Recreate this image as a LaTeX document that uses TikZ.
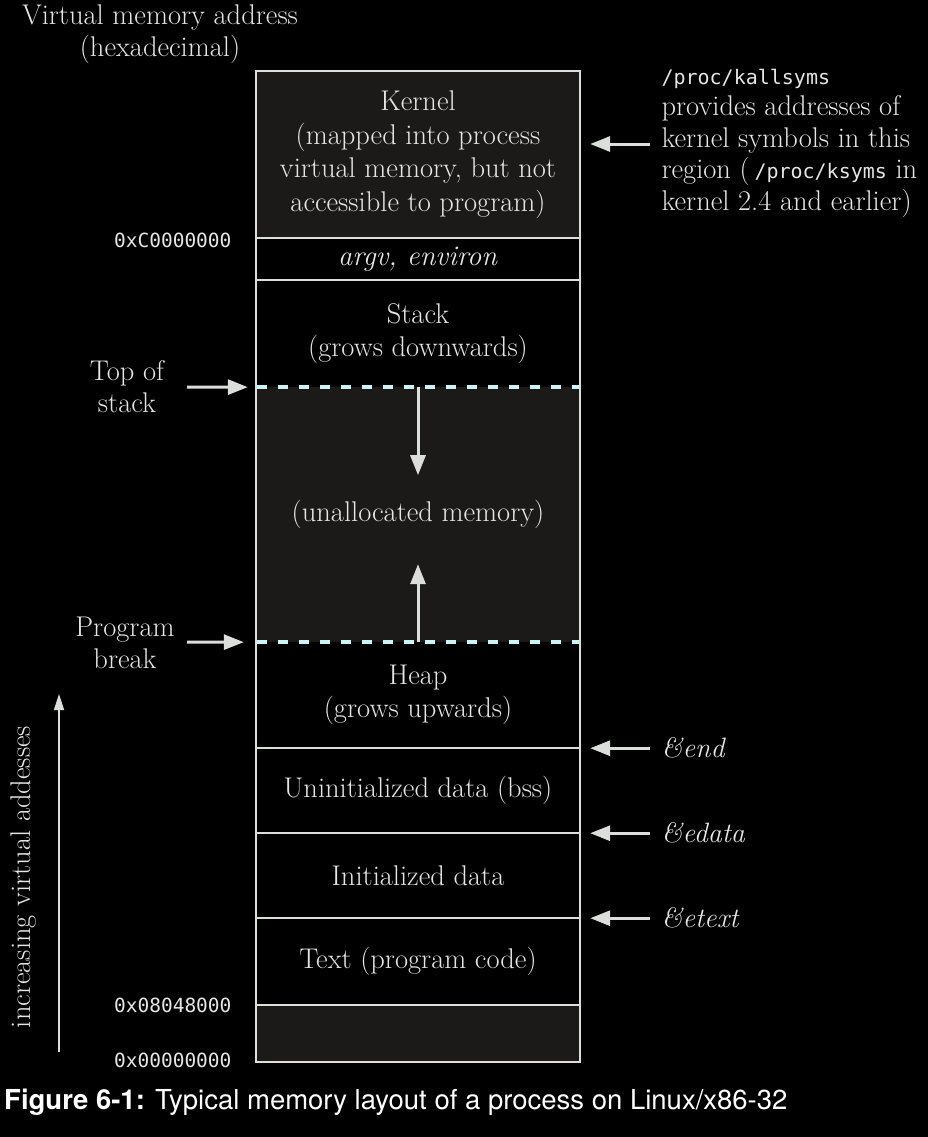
\documentclass[tikz,border=0pt]{standalone}
\usepackage{graphicx}
\usepackage{fontspec}
\setmonofont{DejaVu Sans Mono}
\newfontfamily\capfont{TeX Gyre Heros}
\usetikzlibrary{arrows.meta, positioning}

\definecolor{linec}{HTML}{DCDEDC}
\definecolor{textc}{HTML}{E6E6E6}
\definecolor{fillc}{HTML}{1B1A19}
\definecolor{dashc}{HTML}{CCF4F6}

\begin{document}
\begin{tikzpicture}[x=1pt, y=-1pt,
    region/.style={minimum width=324pt, inner sep=0pt, align=center, text=textc,
      font=\fontsize{28.5}{33.5}\selectfont},
    label/.style={align=center, text=textc, font=\fontsize{28.5}{32}\selectfont},
    addr/.style={anchor=east, text=textc, font=\ttfamily\fontsize{19.5}{22}\selectfont},
    ptr/.style={-{Triangle[width=15pt,length=20pt]}, draw=linec, line width=3pt},
    sep/.style={draw=linec, line width=2.5pt},
    dashline/.style={draw=dashc, line width=3.5pt, dash pattern=on 10pt off 11pt}]

    % Background
    \fill[black] (0,0) rectangle (928,1137);

    % Regions
    \node[region, fill=fillc, minimum height=167pt] (kernel) at (418,154.5)
      {Kernel\\(mapped into process\\virtual memory, but not\\accessible to program)};
    \node[region, minimum height=42pt] (argv) at (418,259) {\textit{argv, environ}};
    \node[region, minimum height=107pt] (stack) at (418,333.5) {Stack\\(grows downwards)};
    \node[region, fill=fillc, minimum height=255pt] (unalloc) at (418,514.5) {(unallocated memory)};
    \node[region, minimum height=106pt] (heap) at (418,695) {Heap\\(grows upwards)};
    \node[region, minimum height=85pt] (bss) at (418,790.5) {Uninitialized data (bss)};
    \node[region, minimum height=85pt] (data) at (418,875.5) {Initialized data};
    \node[region, minimum height=87pt] (text) at (418,961.5) {Text (program code)};
    \node[region, fill=fillc, minimum height=57pt] (low) at (418,1033.5) {};

    % Frame and separators
    \draw[sep] (kernel.north west) rectangle (low.south east);
    \draw[sep] (kernel.south west) -- (kernel.south east);
    \draw[sep] (argv.south west) -- (argv.south east);
    \draw[sep] (heap.south west) -- (heap.south east);
    \draw[sep] (bss.south west) -- (bss.south east);
    \draw[sep] (data.south west) -- (data.south east);
    \draw[sep] (text.south west) -- (text.south east);
    \draw[dashline] ([xshift=1.5pt]stack.south west) -- ([xshift=-1.5pt]stack.south east);
    \draw[dashline] ([xshift=1.5pt]unalloc.south west) -- ([xshift=-1.5pt]unalloc.south east);

    % Growth arrows
    \draw[ptr] (stack.south) -- ++(0,88);
    \draw[ptr] (unalloc.south) -- ++(0,-78);

    % Addresses
    \node[label] (title) at (160,34) {Virtual memory address\\(hexadecimal)};
    \node[addr] (a3) at (235,240) {0xC0000000};
    \node[addr] (a1) at (235,1005) {0x08048000};
    \node[addr] (a0) at (235,1060) {0x00000000};

    % Left pointers
    \node[label] (tos) at (127,387) {Top of\\stack};
    \coordinate (tostail) at (187,387);
    \draw[ptr, shorten >=8pt] (tostail) -- (stack.south west);
    \node[label] (brk) at (125,643) {Program\\break};
    \coordinate (brktail) at (187,642);
    \draw[ptr, shorten >=12pt] (brktail) -- (unalloc.south west);

    % Right pointers
    \node[label, anchor=west, align=left, font=\fontsize{28.5}{31.5}\selectfont] (ksyms) at (658,143)
      {{\ttfamily\fontsize{20}{20}\selectfont /proc/kallsyms}\\provides addresses of\\kernel symbols in this\\region (\,{\ttfamily\fontsize{20}{20}\selectfont /proc/ksyms} in\\kernel 2.4 and earlier)};
    \coordinate (ktail) at (650,144);
    \draw[ptr, shorten >=10pt] (ktail) -- (kernel.east |- ktail);
    \foreach \n/\r/\t in {end/heap/end, edata/bss/edata, etext/data/etext} {
      \node[label, anchor=west, font=\itshape\fontsize{28}{30}\selectfont] (\n) at (658,0 |- \r.south) {\&\t};
      \draw[ptr, shorten >=10pt] ([xshift=-8pt]\n.west) -- (\r.south east);
    }

    % Direction of addresses
    \node[label, rotate=90] (dir) at (24,877) {increasing virtual addesses};
    \coordinate (dirlo) at (59,1052);
    \coordinate (dirhi) at (59,694);
    \draw[-{Triangle[width=10pt,length=16pt]}, draw=linec, line width=1.5pt] (dirlo) -- (dirhi);

    % Caption
    \node[anchor=west, text=white, inner sep=0pt] (cap) at (4,1102)
      {\capfont\fontsize{27.5}{30}\selectfont\textbf{Figure 6-1:} Typical memory layout of a process on Linux/x86-32};

\end{tikzpicture}
\end{document}
